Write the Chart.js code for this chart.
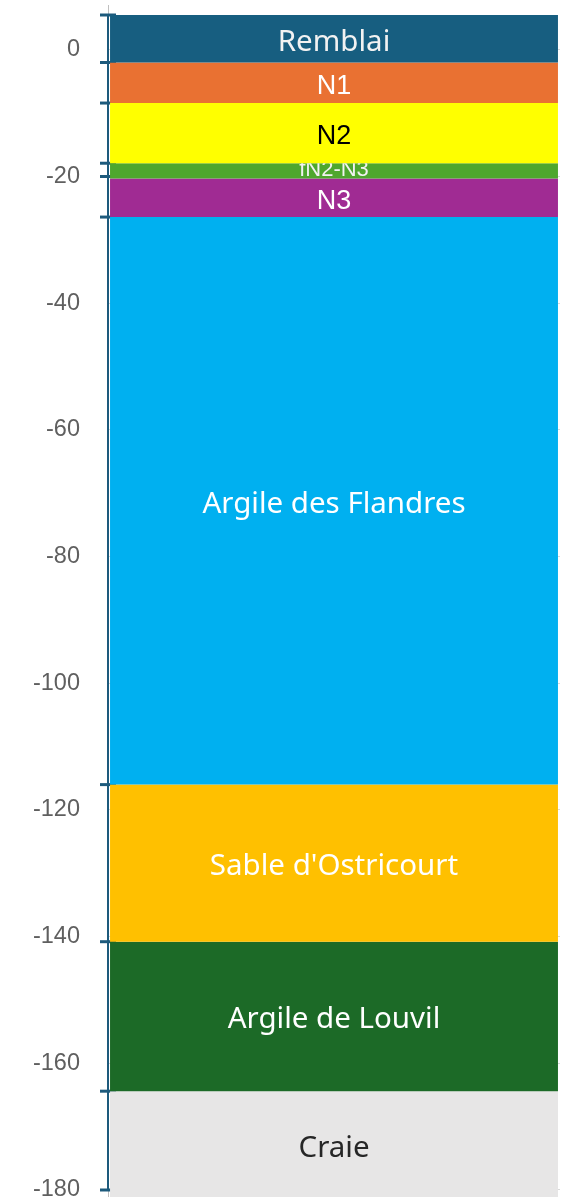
<!DOCTYPE html>
<html>
<head>
<meta charset="utf-8">
<script src="https://cdn.jsdelivr.net/npm/chart.js@4/dist/chart.umd.min.js"></script>
<style>
  html, body { margin: 0; padding: 0; background: #ffffff; overflow: hidden; }
  #wrap { width: 567px; height: 1209px; }
</style>
</head>
<body>
<div id="wrap"><canvas id="c" width="567" height="1209"></canvas></div>
<script>
// ---- data ----
const layerNames = ['Remblai', 'N1', 'N2', 'fN2-N3', 'N3', 'Argile des Flandres', "Sable d'Ostricourt", 'Argile de Louvil', 'Craie'];
const layerTops = [5.5, -2, -8.4, -17.9, -20.3, -26.4, -116, -140.8, -164.4];
const layerBottoms = [-2, -8.4, -17.9, -20.3, -26.4, -116, -140.8, -164.4, -181.5];
const markerDepths = [5.5, -2, -8.4, -17.9, -20, -26.4, -116, -140.8, -164.4, -180];
const tickValues = [0, -20, -40, -60, -80, -100, -120, -140, -160, -180];
const axisMax = 7;
const axisMin = -183;

// ---- styles ----
const layerColors = ['#175e80', '#e97132', '#ffff00', '#4ea72e', '#a02b93', '#00b0f0', '#ffc000', '#1c6a27', '#e7e6e6'];
const labelColors = ['#f2f2f2', '#ffffff', '#000000', '#f2f2f2', '#ffffff', '#ffffff', '#ffffff', '#ffffff', '#262626'];
const labelFonts = ['29.5px "Noto Sans"', '27px "Liberation Sans"', '27px "Liberation Sans"', '22px "Liberation Sans"', '27px "Liberation Sans"',
                    '29.5px "Noto Sans"', '29.5px "Noto Sans"', '29.5px "Noto Sans"', '29.5px "Noto Sans"'];

const layerLabelPlugin = {
  id: 'layerLabels',
  afterDatasetsDraw(chart) {
    const ctx = chart.ctx;
    layerNames.forEach((name, i) => {
      const el = chart.getDatasetMeta(i).data[0];
      if (!el) return;
      const p = el.getProps(['x', 'y', 'base', 'width'], true);
      const top = Math.min(p.y, p.base), bottom = Math.max(p.y, p.base);
      const left = p.x - p.width / 2;
      const size = parseFloat(labelFonts[i]);
      const capH = size * 0.715;
      ctx.save();
      ctx.beginPath();
      ctx.rect(left, top, p.width, bottom - top);
      ctx.clip();
      ctx.font = labelFonts[i];
      ctx.fillStyle = labelColors[i];
      ctx.textAlign = 'center';
      ctx.textBaseline = 'alphabetic';
      let baseline = (top + bottom) / 2 + 1.5 + capH / 2;
      if (capH > bottom - top) baseline = bottom - 2;
      ctx.fillText(name, p.x, baseline);
      ctx.restore();
    });
  }
};

const datasets = layerNames.map((name, i) => ({
  type: 'bar',
  label: name,
  data: [[layerBottoms[i], layerTops[i]]],
  backgroundColor: layerColors[i],
  borderWidth: 0,
  grouped: false,
  barPercentage: 0.991,
  categoryPercentage: 1.0,
  xAxisID: 'x',
  yAxisID: 'y',
  order: 0
}));

datasets.push({
  type: 'line',
  label: 'limites',
  data: markerDepths.map(d => ({ x: 0, y: d })),
  xAxisID: 'x2',
  yAxisID: 'y',
  borderColor: '#1d5a7c',
  borderWidth: 2,
  pointStyle: 'line',
  pointRadius: 8,
  pointHoverRadius: 8,
  pointBorderWidth: 3,
  pointBorderColor: '#1d5a7c',
  pointBackgroundColor: '#1d5a7c',
  fill: false,
  clip: false,
  order: 1
});

new Chart(document.getElementById('c'), {
  type: 'bar',
  data: { labels: [''], datasets },
  options: {
    responsive: false,
    animation: false,
    devicePixelRatio: 1,
    layout: { autoPadding: false, padding: { top: 5.5, right: 7, bottom: 0, left: 0 } },
    plugins: { legend: { display: false }, tooltip: { enabled: false } },
    scales: {
      x: { type: 'category', display: false, offset: true, grid: { display: false } },
      x2: { type: 'linear', display: false, offset: false, min: 0, max: 1 },
      y: {
        type: 'linear',
        position: 'left',
        min: axisMin,
        max: axisMax,
        afterBuildTicks: (scale) => { scale.ticks = tickValues.map(v => ({ value: v })); },
        afterFit: (scale) => { scale.width = 108; scale.paddingTop = 0; scale.paddingBottom = 0; },
        grid: { color: '#d9d9d9', lineWidth: 1, drawTicks: false },
        border: { display: true, color: '#bfbfbf', width: 1 },
        ticks: {
          padding: 28,
          color: '#5f5f5f',
          font: { family: '"Liberation Sans", Arial, sans-serif', size: 23.5 },
          callback: (v) => String(v)
        }
      }
    }
  },
  plugins: [layerLabelPlugin]
});
</script>
</body>
</html>
